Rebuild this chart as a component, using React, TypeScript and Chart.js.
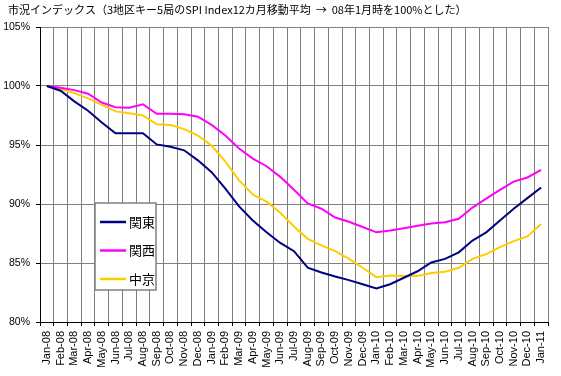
import React, { useEffect, useRef } from "react";
import { Chart, registerables } from "chart.js";

Chart.register(...registerables);

const TITLE = "市況インデックス（3地区キー5局のSPI Index12カ月移動平均  →  08年1月時を100%とした）";

const MONTHS = [
  "Jan-08", "Feb-08", "Mar-08", "Apr-08", "May-08", "Jun-08", "Jul-08", "Aug-08", "Sep-08", "Oct-08", "Nov-08", "Dec-08",
  "Jan-09", "Feb-09", "Mar-09", "Apr-09", "May-09", "Jun-09", "Jul-09", "Aug-09", "Sep-09", "Oct-09", "Nov-09", "Dec-09",
  "Jan-10", "Feb-10", "Mar-10", "Apr-10", "May-10", "Jun-10", "Jul-10", "Aug-10", "Sep-10", "Oct-10", "Nov-10", "Dec-10",
  "Jan-11",
];

const KANTO = [
  100, 99.6, 98.7, 97.9, 96.9, 96.0, 96.0, 96.0, 95.05, 94.85, 94.55, 93.7,
  92.7, 91.3, 89.8, 88.6, 87.6, 86.7, 86.0, 84.6, 84.2, 83.85, 83.55, 83.2,
  82.85, 83.2, 83.75, 84.3, 85.05, 85.35, 85.9, 86.9, 87.6, 88.6, 89.6, 90.5,
  91.4,
];

const KANSAI = [
  100, 99.85, 99.65, 99.35, 98.6, 98.2, 98.15, 98.45, 97.65, 97.65, 97.6, 97.4,
  96.7, 95.8, 94.7, 93.85, 93.2, 92.3, 91.2, 90.05, 89.6, 88.85, 88.5, 88.05,
  87.6, 87.75, 87.95, 88.15, 88.35, 88.45, 88.75, 89.7, 90.45, 91.2, 91.9, 92.25,
  92.9,
];

const CHUKYO = [
  100, 99.75, 99.4, 98.95, 98.4, 97.85, 97.7, 97.5, 96.75, 96.7, 96.35, 95.8,
  94.95, 93.6, 92.0, 90.8, 90.2, 89.25, 88.1, 87.05, 86.5, 86.0, 85.35, 84.6,
  83.8, 83.95, 83.9, 83.9, 84.15, 84.25, 84.6, 85.35, 85.75, 86.35, 86.85, 87.25,
  88.3,
];

const SERIES_NAMES = ["関東", "関西", "中京"];
const SERIES_COLORS = ["#000080", "#FF00FF", "#FFCC00"];

const Y_MIN = 80;
const Y_MAX = 105;
const Y_STEP = 5;

const overlayPlugin = {
  id: "overlay",
  afterDraw(chart: any) {
    const ctx = chart.ctx as CanvasRenderingContext2D;
    ctx.save();
    // title
    ctx.fillStyle = "#000";
    ctx.font = '11px "Noto Sans CJK JP"';
    ctx.textAlign = "left";
    ctx.textBaseline = "middle";
    ctx.fillText(TITLE, 8, 10);

    // legend box
    const bx = 95, by = 203, bw = 61, bh = 87;
    ctx.fillStyle = "#fff";
    ctx.fillRect(bx, by, bw, bh);
    ctx.strokeStyle = "#808080";
    ctx.lineWidth = 1.5;
    ctx.strokeRect(bx, by, bw, bh);
    const rows = [222, 250.5, 279];
    chart.data.datasets.forEach((ds: any, i: number) => {
      const y = rows[i];
      ctx.strokeStyle = ds.borderColor;
      ctx.lineWidth = 2.5;
      ctx.beginPath();
      ctx.moveTo(100, y);
      ctx.lineTo(126, y);
      ctx.stroke();
      ctx.fillStyle = "#000";
      ctx.font = '13px "Noto Sans CJK JP"';
      ctx.textBaseline = "middle";
      ctx.fillText(ds.label, 129, y);
    });
    ctx.restore();
  },
};

export default function App() {
  const ref = useRef<HTMLCanvasElement | null>(null);

  useEffect(() => {
    if (!ref.current) return;
    const seriesData = [KANTO, KANSAI, CHUKYO];
    const chart = new Chart(ref.current, {
      type: "line",
      data: {
        labels: MONTHS,
        datasets: seriesData.map((d, i) => ({
          label: SERIES_NAMES[i],
          data: d,
          borderColor: SERIES_COLORS[i],
          backgroundColor: SERIES_COLORS[i],
          borderWidth: 2,
          pointRadius: 0,
          tension: 0,
          fill: false,
        })),
      },
      options: {
        animation: false,
        responsive: false,
        maintainAspectRatio: false,
        layout: { padding: { top: 27, right: 13, left: 0, bottom: 0 } },
        plugins: {
          legend: { display: false },
          title: { display: false },
          tooltip: { enabled: false },
        },
        scales: {
          x: {
            type: "category",
            offset: true,
            grid: {
              offset: true,
              color: "#808080",
              lineWidth: 1,
              tickColor: "#000",
              tickLength: 4,
              drawTicks: true,
            },
            border: { display: true, color: "#000", width: 1 },
            ticks: {
              autoSkip: false,
              minRotation: 90,
              maxRotation: 90,
              color: "#000",
              padding: 5,
              font: { family: "Liberation Sans", size: 11 },
            },
            afterFit(scale: any) {
              scale.height = 54;
            },
          },
          y: {
            min: Y_MIN,
            max: Y_MAX,
            grid: {
              color: "#808080",
              lineWidth: 1,
              tickColor: "#000",
              tickLength: 4,
            },
            border: { display: true, color: "#000", width: 1 },
            ticks: {
              stepSize: Y_STEP,
              color: "#000",
              padding: 6,
              font: { family: "Liberation Sans", size: 10.5 },
              callback: (v: any) => `${v}%`,
            },
            afterFit(scale: any) {
              scale.width = 40;
            },
          },
        },
      },
      plugins: [overlayPlugin],
    });
    return () => chart.destroy();
  }, []);

  return (
    <div style={{ position: "absolute", left: 0, top: 0, width: 561, height: 376, background: "#fff" }}>
      <canvas ref={ref} width={561} height={376} style={{ width: 561, height: 376 }} />
    </div>
  );
}
